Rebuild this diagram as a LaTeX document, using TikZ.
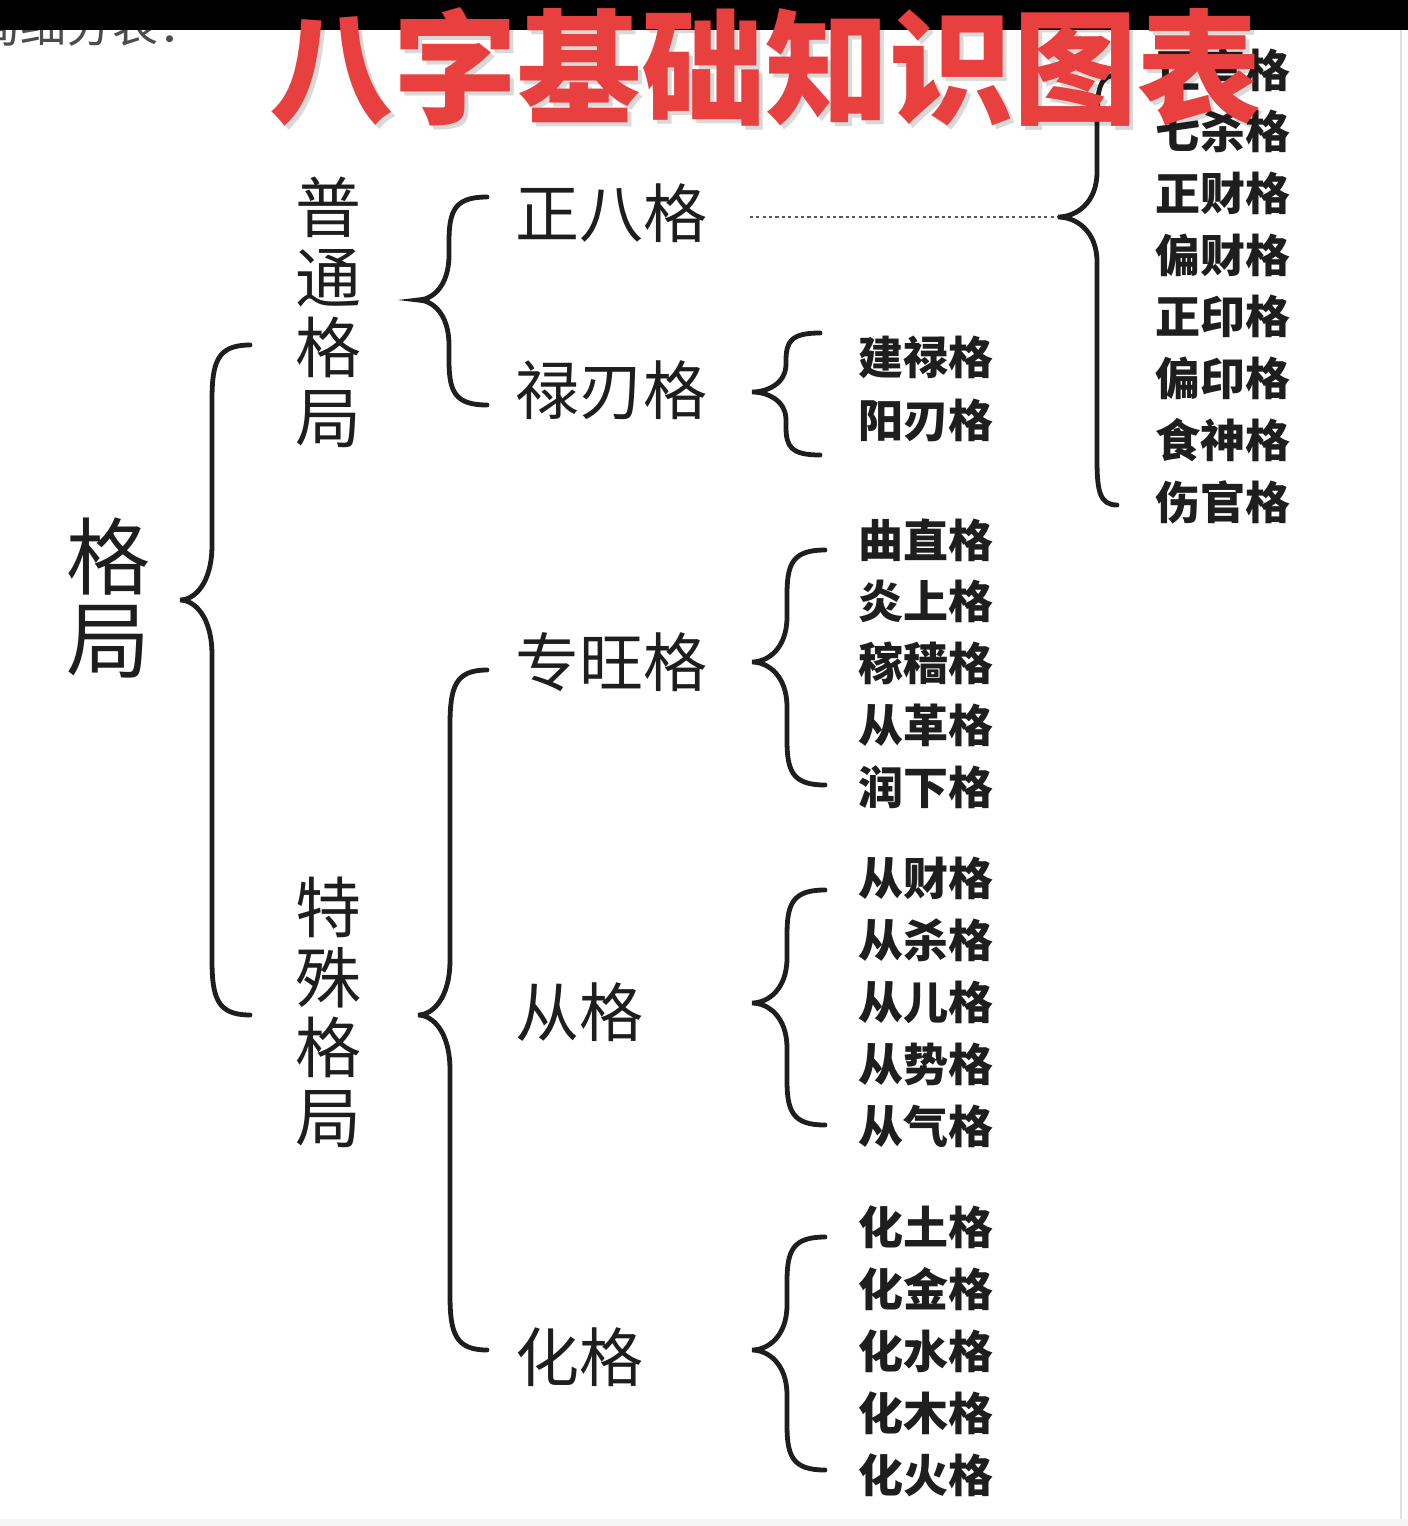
\documentclass[tikz,border=0pt]{standalone}
\usepackage{fontspec}
\setmainfont{Noto Sans CJK SC}
\usepackage{tikz}
\definecolor{titlered}{RGB}{232, 64, 62}
\definecolor{inkgray}{RGB}{30, 30, 30}

% brace: end x, spine x, tip x, top y, tip y, bottom y, bend
\newcommand\curlybrace[7]{%
  \draw[curly] (#1,#4) .. controls ({#2+0.15*(#1-#2)},#4) and (#2,{#4+0.3*#7}) .. (#2,#4+#7)
    -- (#2,#5-#7) .. controls (#2,{#5-0.3*#7}) and ({#3+0.45*(#2-#3)},#5) .. (#3,#5)
    .. controls ({#3+0.45*(#2-#3)},#5) and (#2,{#5+0.3*#7}) .. (#2,#5+#7)
    -- (#2,#6-#7) .. controls (#2,{#6-0.3*#7}) and ({#2+0.15*(#1-#2)},#6) .. (#1,#6);}

\begin{document}
\begin{tikzpicture}[
            x=0.5pt, y=-0.5pt,
            every node/.style={inner sep=0pt, text=inkgray},
            head/.style={font=\fontsize{42}{41.5}\selectfont, align=center},
            kind/.style={font=\fontsize{33}{35}\selectfont, align=center},
            sub/.style={font=\fontsize{32}{32}\selectfont, anchor=west},
            leaf/.style={font=\bfseries\fontsize{22.5}{22.5}\selectfont, anchor=west},
            curly/.style={line width=2.4pt, line cap=round, inkgray},
            link/.style={line width=0.9pt, black!65, dash pattern=on 1.6pt off 1.6pt},
        ]
            \useasboundingbox (0,0) rectangle (1408,1526);
            \fill[white] (0,0) rectangle (1408,1526);
            \fill[gray!8] (0,1519) rectangle (1408,1526);
            \draw[gray!25, line width=0.6pt] (1401,30) -- (1401,1519);

            % cut-off heading under the black bar
            \node[font=\fontsize{23}{23}\selectfont, text=black!70, anchor=east] (cut) at (205,25) {格局细分表：};
            \fill[black] (0,0) rectangle (1408,30);

            % main levels
            \node[head] (geju) at (108,598) {格\\局};
            \node[kind] (putong) at (328,312) {普\\通\\格\\局};
            \node[kind] (teshu) at (328,1012) {特\\殊\\格\\局};

            \node[sub] (zhengba) at (515,213) {正八格};
            \node[sub] (luren) at (515,390) {禄刃格};
            \node[sub] (zhuanwang) at (515,662) {专旺格};
            \node[sub] (cong) at (515,1012) {从格};
            \node[sub] (hua) at (515,1357) {化格};

            % braces
            \curlybrace{250}{212}{180}{345}{600}{1015}{55}
            \curlybrace{487}{449}{418}{197}{300}{405}{45}
            \curlybrace{487}{450}{418}{670}{1015}{1350}{55}
            \curlybrace{820}{786}{752}{333}{392}{455}{28}
            \curlybrace{825}{787}{752}{550}{662}{785}{45}
            \curlybrace{825}{787}{752}{890}{1003}{1125}{45}
            \curlybrace{825}{787}{752}{1237}{1350}{1470}{45}
            \curlybrace{1117}{1097}{1058}{75}{217}{505}{45}

            % leaves
            \foreach \name [count=\k from 0] in {建禄格,阳刃格}
                \node[leaf] (lu\k) at (858,357+63*\k) {\name};
            \foreach \name [count=\k from 0] in {曲直格,炎上格,稼穑格,从革格,润下格}
                \node[leaf] (zw\k) at (858,540+61.75*\k) {\name};
            \foreach \name [count=\k from 0] in {从财格,从杀格,从儿格,从势格,从气格}
                \node[leaf] (cg\k) at (858,878+62*\k) {\name};
            \foreach \name [count=\k from 0] in {化土格,化金格,化水格,化木格,化火格}
                \node[leaf] (hg\k) at (858,1227+62*\k) {\name};
            \foreach \name [count=\k from 0] in {正官格,七杀格,正财格,偏财格,正印格,偏印格,食神格,伤官格}
                \node[leaf] (zb\k) at (1155,70+61.7*\k) {\name};

            % dotted link to the right brace
            \coordinate (zbtip) at (1058,217);
            \draw[link, shorten <=21pt] (zhengba.east |- zbtip) -- (zbtip);

            % title on top
            \node[font=\bfseries\fontsize{62}{62}\selectfont, text=black, opacity=0.15] at (769,71) {八字基础知识图表};
            \node[font=\bfseries\fontsize{62}{62}\selectfont, text=titlered] (title) at (765,67) {八字基础知识图表};
        \end{tikzpicture}
\end{document}
